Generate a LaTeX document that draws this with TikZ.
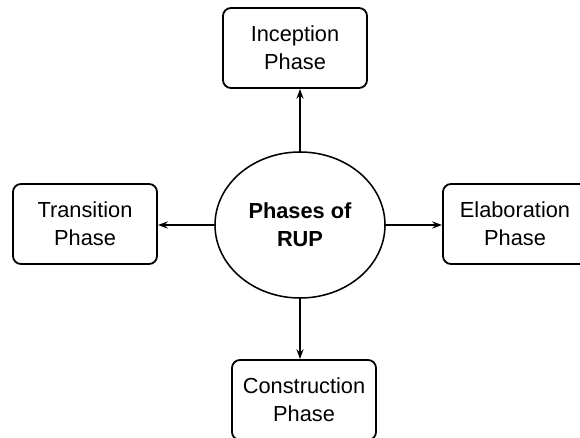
\documentclass[tikz,border=0pt]{standalone}
\usepackage{fontspec}
\setsansfont{Liberation Sans}
\usetikzlibrary{shapes.geometric,arrows.meta}

\tikzset{
    phase/.style={draw, line width=1.3pt, rounded corners=0.2cm, minimum width=3.6cm, minimum height=2cm, align=center, font=\sffamily\fontsize{15.5}{20}\selectfont},
    rup/.style={draw, ellipse, line width=1.1pt, minimum width=4.25cm, minimum height=3.65cm, inner sep=0pt, align=center, font=\sffamily\bfseries\fontsize{15.5}{20}\selectfont},
    pfeil/.style={-{Stealth[length=7pt,width=5pt]}, line width=1.1pt}
}

\begin{document}
\begin{tikzpicture}
    \clip (0,0) rectangle (14.5,-10.95);
    \useasboundingbox (0,0) rectangle (14.5,-10.95);
    % Mitte:
    \node[rup] (rup) at (7.5,-5.625) {Phases of\\RUP};
    % die vier Phasen:
    \node[phase] (inception) at (7.375,-1.2) {Inception\\Phase}; % oben
    \node[phase] (transition) at (2.125,-5.6) {Transition\\Phase}; % links
    \node[phase] (elaboration) at (12.875,-5.6) {Elaboration\\Phase}; % rechts
    \node[phase] (construction) at (7.6,-10.0) {Construction\\Phase}; % unten
    % Pfeile:
\draw[pfeil] (rup.north) -- (rup.north |- inception.south);
\draw[pfeil] (rup.west) -- (rup.west -| transition.east);
\draw[pfeil] (rup.east) -- (rup.east -| elaboration.west);
\draw[pfeil] (rup.south) -- (rup.south |- construction.north);
\end{tikzpicture}
\end{document}
